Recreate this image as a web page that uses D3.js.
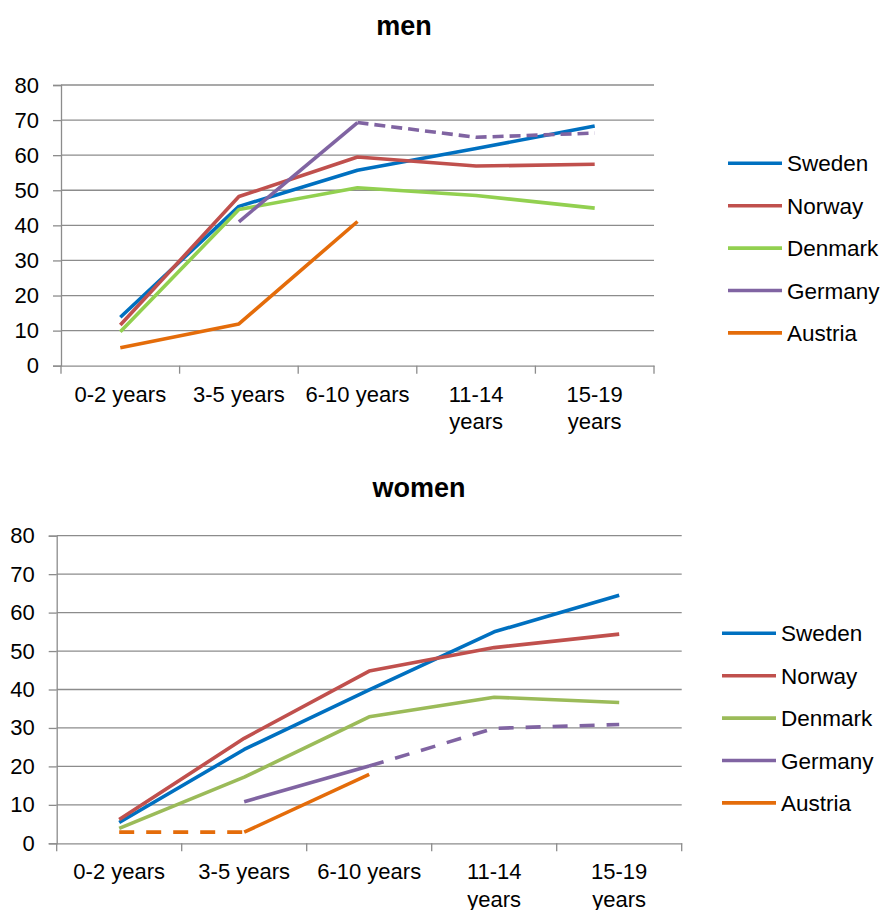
<!DOCTYPE html>
<html>
<head>
<meta charset="utf-8">
<script src="https://cdn.jsdelivr.net/npm/d3@7"></script>
<style>
  html, body { margin: 0; padding: 0; background: #fff; }
  text { font-family: "Liberation Sans", Arial, sans-serif; fill: #000; }
</style>
</head>
<body>
<svg id="chart" width="887" height="910"></svg>
<script>
// ---------- data ----------
const categories = ["0-2 years", "3-5 years", "6-10 years", "11-14 years", "15-19 years"];
const yTicks = [0, 10, 20, 30, 40, 50, 60, 70, 80];
const countries = ["Sweden", "Norway", "Denmark", "Germany", "Austria"];

// men (solid segments)
const menSweden  = [13.8, 45.4, 55.7, 61.9, 68.3];
const menNorway  = [11.6, 48.2, 59.5, 56.9, 57.4];
const menDenmark = [9.7, 44.5, 50.7, 48.5, 44.9];
const menGermany = [null, 41.0, 69.3, null, null];
const menAustria = [5.1, 11.9, 41.1, null, null];
// men (dashed segments)
const menGermanyDashed = [null, null, 69.3, 65.1, 66.3];

// women (solid segments)
const womenSweden  = [5.4, 24.4, 39.9, 55.0, 64.5];
const womenNorway  = [6.2, 27.3, 44.8, 50.9, 54.4];
const womenDenmark = [3.9, 17.2, 32.9, 38.0, 36.6];
const womenGermany = [null, 10.8, 20.1, null, null];
const womenAustria = [null, 2.9, 17.9, null, null];
// women (dashed segments)
const womenGermanyDashed = [null, null, 20.1, 29.9, 30.9];
const womenAustriaDashed = [2.9, 2.9, null, null, null];

// ---------- styles ----------
const colorsMen   = {Sweden: "#0070C0", Norway: "#C0504D", Denmark: "#92D050", Germany: "#8064A2", Austria: "#E46C0A"};
const colorsWomen = {Sweden: "#0070C0", Norway: "#C0504D", Denmark: "#9BBB59", Germany: "#8064A2", Austria: "#E46C0A"};
const gridColor = "#8c8c8c";

const svg = d3.select("#chart");

function wrap(sel, width) {
  sel.each(function() {
    const t = d3.select(this);
    const words = t.text().split(/\s+/);
    const x = t.attr("x") || 0;
    const y = t.attr("y");
    t.text(null);
    let line = [];
    let lineNo = 0;
    let tspan = t.append("tspan").attr("x", x).attr("y", y).attr("dy", "0em");
    for (const w of words) {
      line.push(w);
      tspan.text(line.join(" "));
      if (tspan.node().getComputedTextLength() > width && line.length > 1) {
        line.pop();
        tspan.text(line.join(" "));
        line = [w];
        lineNo++;
        tspan = t.append("tspan").attr("x", x).attr("y", y).attr("dy", (lineNo * 1.25) + "em").text(w);
      }
    }
  });
}

function drawChart(cfg) {
  const g = svg.append("g");
  const x = d3.scaleBand().domain(categories).range([cfg.left, cfg.right]);
  const y = d3.scaleLinear().domain([0, 80]).range([cfg.bottom, cfg.top]);

  // title
  g.append("text")
    .attr("x", cfg.titleX).attr("y", cfg.titleY)
    .attr("text-anchor", "middle")
    .style("font-size", "27px").style("font-weight", "bold")
    .text(cfg.title);

  // gridlines
  g.selectAll("line.grid").data(yTicks.filter(d => d > 0)).enter().append("line")
    .attr("x1", cfg.left).attr("x2", cfg.right)
    .attr("y1", d => y(d)).attr("y2", d => y(d))
    .attr("stroke", gridColor).attr("stroke-width", 1.3);

  // y axis
  const yAxis = g.append("g").attr("transform", `translate(${cfg.left},0)`)
    .call(d3.axisLeft(y).tickValues(yTicks).tickSize(8).tickPadding(14).tickFormat(d3.format("d")));
  yAxis.select(".domain").attr("stroke", gridColor).attr("stroke-width", 1.3);
  yAxis.selectAll(".tick line").attr("stroke", gridColor).attr("stroke-width", 1.3);
  yAxis.selectAll(".tick text").style("font-size", "22px").style("font-family", "Liberation Sans, Arial, sans-serif").attr("fill", "#000");

  // x axis
  const xAxis = g.append("g").attr("transform", `translate(0,${cfg.bottom})`)
    .call(d3.axisBottom(x).tickSize(0).tickFormat(""));
  xAxis.select(".domain").attr("stroke", gridColor).attr("stroke-width", 1.3);
  const edges = categories.map(c => x(c)).concat([cfg.right]);
  g.selectAll("line.xtick").data(edges).enter().append("line")
    .attr("x1", d => d).attr("x2", d => d)
    .attr("y1", cfg.bottom).attr("y2", cfg.bottom + 8)
    .attr("stroke", gridColor).attr("stroke-width", 1.3);

  g.selectAll("text.xlab").data(categories).enter().append("text")
    .attr("class", "xlab")
    .attr("x", d => x(d) + x.bandwidth() / 2)
    .attr("y", cfg.bottom + 36)
    .attr("text-anchor", "middle")
    .style("font-size", "22px")
    .text(d => d)
    .call(wrap, 108);

  const line = d3.line()
    .defined(d => d != null)
    .x((d, i) => x(categories[i]) + x.bandwidth() / 2)
    .y(d => y(d));

  cfg.series.forEach(s => {
    g.append("path")
      .datum(s.values)
      .attr("fill", "none")
      .attr("stroke", cfg.colors[s.name])
      .attr("stroke-width", 3.6)
      .attr("stroke-linejoin", "round")
      .attr("stroke-dasharray", s.dashed ? cfg.dash : null)
      .attr("d", line);
  });

  // legend
  const lg = g.append("g");
  countries.forEach((c, i) => {
    const ly = cfg.legendY + i * cfg.legendStep;
    lg.append("line")
      .attr("x1", cfg.legendX).attr("x2", cfg.legendX + 54)
      .attr("y1", ly).attr("y2", ly)
      .attr("stroke", cfg.colors[c]).attr("stroke-width", 3.6);
    lg.append("text")
      .attr("x", cfg.legendX + 59).attr("y", ly)
      .attr("dy", "0.36em")
      .style("font-size", "22.5px")
      .text(c);
  });
}

drawChart({
  title: "men", titleX: 404, titleY: 35,
  left: 61, right: 654, top: 85, bottom: 365.7,
  colors: colorsMen, dash: "11,6",
  legendX: 728, legendY: 163.3, legendStep: 42.4,
  series: [
    {name: "Sweden", values: menSweden},
    {name: "Norway", values: menNorway},
    {name: "Denmark", values: menDenmark},
    {name: "Germany", values: menGermany},
    {name: "Germany", values: menGermanyDashed, dashed: true},
    {name: "Austria", values: menAustria}
  ]
});

drawChart({
  title: "women", titleX: 419, titleY: 497,
  left: 56.7, right: 681.7, top: 535.7, bottom: 843.3,
  colors: colorsWomen, dash: "15,12",
  legendX: 722, legendY: 633.3, legendStep: 42.4,
  series: [
    {name: "Sweden", values: womenSweden},
    {name: "Norway", values: womenNorway},
    {name: "Denmark", values: womenDenmark},
    {name: "Germany", values: womenGermany},
    {name: "Germany", values: womenGermanyDashed, dashed: true},
    {name: "Austria", values: womenAustria},
    {name: "Austria", values: womenAustriaDashed, dashed: true}
  ]
});
</script>
</body>
</html>
